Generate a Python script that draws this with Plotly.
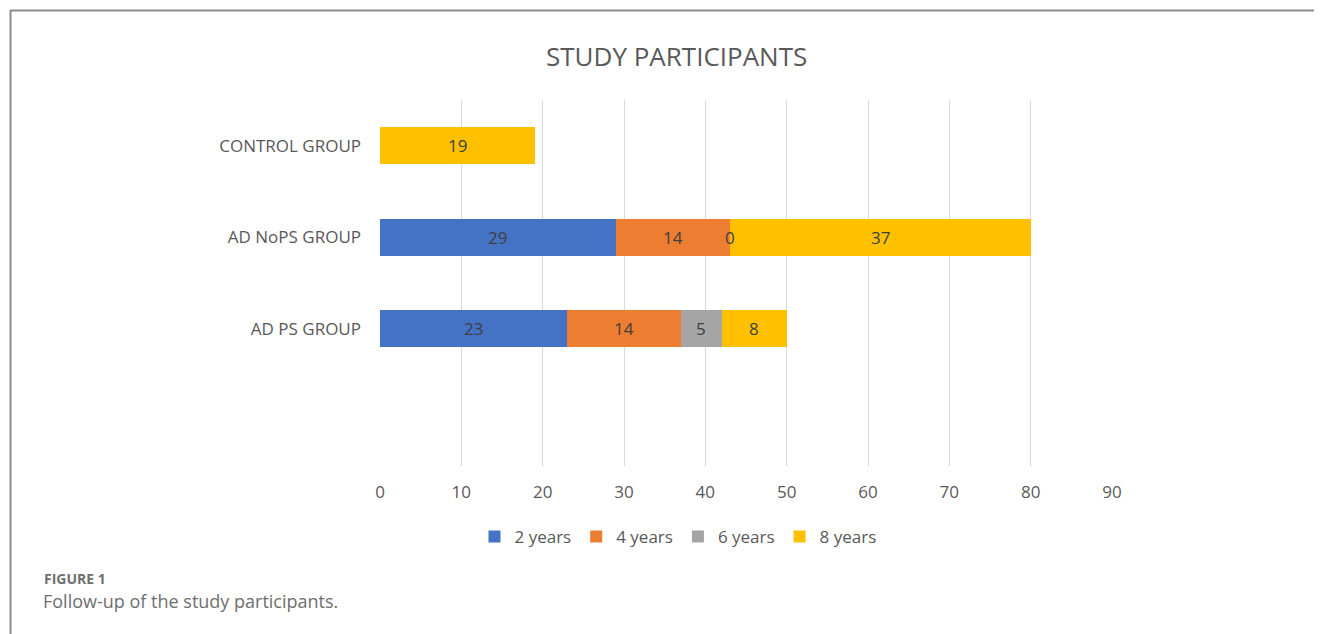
import plotly.graph_objects as go

categories = ["CONTROL GROUP", "AD NoPS GROUP", "AD PS GROUP"]
series_names = ["2 years", "4 years", "6 years", "8 years"]
values_2y = [None, 29, 23]
values_4y = [None, 14, 14]
values_6y = [None, 0, 5]
values_8y = [19, 37, 8]
colors = ["#4472C4", "#ED7D31", "#A5A5A5", "#FFC000"]

series_values = [values_2y, values_4y, values_6y, values_8y]

# page offset of the figure inside the browser (body margin)
OFF = 8
W, H = 1322 - OFF, 634 - OFF
# plot area geometry in screen pixels
SL, SR, ST, SB = 380, 1112, 100, 466
L, R, T, B = SL - OFF, SR - OFF, ST - OFF, SB - OFF
pw, ph = R - L, B - T


def px_x(sx):
    return (sx - SL) / pw


def px_y(sy):
    return (SB - sy) / ph


font_main = "Open Sans"
grey_txt = "#595959"

fig = go.Figure()
for name, vals, col in zip(series_names, series_values, colors):
    fig.add_trace(go.Bar(
        y=categories, x=vals, name=name, orientation="h",
        marker=dict(color=col, line=dict(width=0)),
        hoverinfo="x+name",
    ))

# data labels at segment centres, computed from the data
annotations = []
for i, cat in enumerate(categories):
    cum = 0
    for vals in series_values:
        v = vals[i]
        if v is None:
            continue
        annotations.append(dict(
            x=cum + v / 2, y=cat, xref="x", yref="y", text=str(v),
            showarrow=False, font=dict(family=font_main, size=17, color="#404040"),
        ))
        cum += v

annotations += [
    dict(text="STUDY PARTICIPANTS", x=px_x(676), y=px_y(56), xref="paper", yref="paper",
         showarrow=False, xanchor="center", yanchor="middle",
         font=dict(family=font_main, size=26, color=grey_txt)),
    dict(text="<b>FIGURE 1</b>", x=px_x(42), y=px_y(578), xref="paper", yref="paper",
         showarrow=False, xanchor="left", yanchor="middle",
         font=dict(family=font_main, size=14, color="#6E6E6E")),
    dict(text="Follow-up of the study participants.", x=px_x(41), y=px_y(601),
         xref="paper", yref="paper", showarrow=False, xanchor="left", yanchor="middle",
         font=dict(family=font_main, size=18, color="#6E6E6E")),
]

fig.update_layout(
    width=W, height=H,
    margin=dict(l=L, r=W - R, t=T, b=H - B, pad=0),
    paper_bgcolor="white", plot_bgcolor="white",
    barmode="stack", bargap=0.6,
    showlegend=True,
    legend=dict(orientation="h", x=px_x(678), y=px_y(537), xanchor="center", yanchor="middle",
                font=dict(family=font_main, size=17, color=grey_txt),
                traceorder="normal", itemwidth=30, bgcolor="rgba(0,0,0,0)"),
    xaxis=dict(range=[0, 90], tickvals=list(range(0, 100, 10)), showgrid=True,
               gridcolor="#D9D9D9", gridwidth=1, zeroline=False, showline=False,
               ticks="", ticklabelstandoff=14,
               tickfont=dict(family=font_main, size=17, color=grey_txt)),
    yaxis=dict(type="category", categoryorder="array",
               categoryarray=categories[::-1],
               range=[-1.5, 2.5], showgrid=False, zeroline=False, showline=False,
               ticks="", ticklabelstandoff=18,
               tickfont=dict(family=font_main, size=17, color=grey_txt)),
    annotations=annotations,
    shapes=[
        dict(type="line", xref="paper", yref="paper", x0=px_x(10.5), x1=px_x(10.5),
             y0=px_y(10), y1=px_y(660), line=dict(color="#8C8C8C", width=2)),
        dict(type="line", xref="paper", yref="paper", x0=px_x(10), x1=px_x(1340),
             y0=px_y(10.5), y1=px_y(10.5), line=dict(color="#8C8C8C", width=2)),
    ],
    font=dict(family=font_main),
)

fig.write_html("out.html")
